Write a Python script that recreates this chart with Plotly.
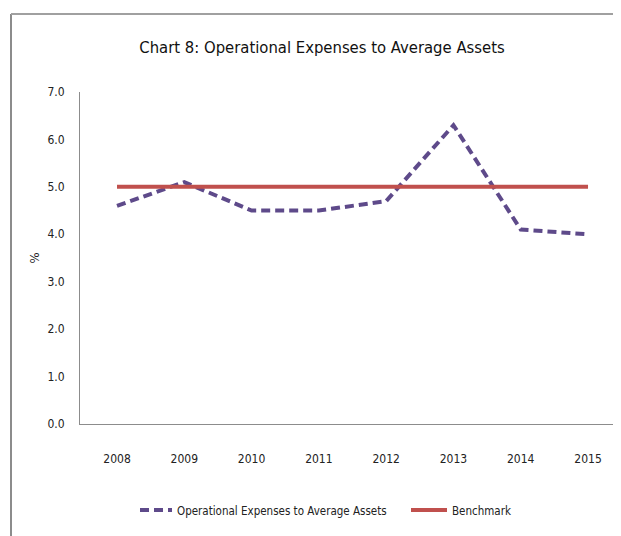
import plotly.graph_objects as go

years = ["2008", "2009", "2010", "2011", "2012", "2013", "2014", "2015"]
opex_ratio = [4.6, 5.1, 4.5, 4.5, 4.7, 6.3, 4.1, 4.0]
benchmark = [5.0, 5.0, 5.0, 5.0, 5.0, 5.0, 5.0, 5.0]
y_ticks = [0, 1, 2, 3, 4, 5, 6, 7]
y_tick_labels = ["0.0", "1.0", "2.0", "3.0", "4.0", "5.0", "6.0", "7.0"]

FONT = "DejaVu Sans Condensed, Liberation Sans Narrow, Arial Narrow, sans-serif"

fig = go.Figure()
fig.add_trace(go.Scatter(
    x=years, y=opex_ratio, mode="lines",
    name="Operational Expenses to Average Assets",
    line=dict(color="#5E4A8A", width=4, dash="9px,5px"),
    legend="legend",
))
fig.add_trace(go.Scatter(
    x=years, y=benchmark, mode="lines", name="Benchmark",
    line=dict(color="#C0504D", width=4),
    legend="legend2",
))

OFF = 8  # default body margin of the html page
W, H = 621 - OFF, 536 - OFF
L, R, T, B = 80 - OFF, 0, 92 - OFF, 536 - 424
pw, ph = W - L - R, H - T - B

def px_x(p):
    return (p - OFF - L) / pw

def px_y(p):
    return (H - B - (p - OFF)) / ph

legend_font = dict(family=FONT, size=11.5, color="#222222")

fig.update_layout(
    width=W, height=H,
    margin=dict(l=L, r=R, t=T, b=B, pad=0),
    paper_bgcolor="white", plot_bgcolor="white",
    font=dict(family=FONT, size=12, color="#222222"),
    title=dict(text="Chart 8: Operational Expenses to Average Assets",
               x=px_x(322), xref="paper", xanchor="center",
               y=1 - (47 - OFF) / H, yanchor="middle",
               font=dict(family=FONT, size=16.5, color="#111111")),
    showlegend=True,
    legend=dict(orientation="h", x=px_x(135), xanchor="left",
                y=px_y(510), yanchor="middle", font=legend_font,
                itemwidth=32, bgcolor="rgba(0,0,0,0)"),
    legend2=dict(orientation="h", x=px_x(406), xanchor="left",
                 y=px_y(510), yanchor="middle", font=legend_font,
                 itemwidth=36, bgcolor="rgba(0,0,0,0)"),
    xaxis=dict(type="category", range=[-0.55, 7.49], showgrid=False,
               showline=True, linecolor="#8c8c8c", linewidth=1,
               ticks="", ticklabelstandoff=24, zeroline=False,
               tickfont=dict(family=FONT, size=12, color="#222222")),
    yaxis=dict(range=[0, 7], tickvals=y_ticks, ticktext=y_tick_labels,
               showgrid=False, showline=True, linecolor="#8c8c8c",
               linewidth=1, ticks="", ticklabelstandoff=12, zeroline=False,
               tickfont=dict(family=FONT, size=12, color="#222222"),
               title=dict(text="%", standoff=4,
                          font=dict(family=FONT, size=13, color="#222222"))),
)

# outer chart frame (left and top edges visible)
fig.add_shape(type="line", xref="paper", yref="paper",
              x0=px_x(11), x1=px_x(11), y0=px_y(14), y1=px_y(560),
              line=dict(color="#8c8c8c", width=2))
fig.add_shape(type="line", xref="paper", yref="paper",
              x0=px_x(11), x1=px_x(640), y0=px_y(14), y1=px_y(14),
              line=dict(color="#a0a0a0", width=2))

fig.write_html("out.html")
